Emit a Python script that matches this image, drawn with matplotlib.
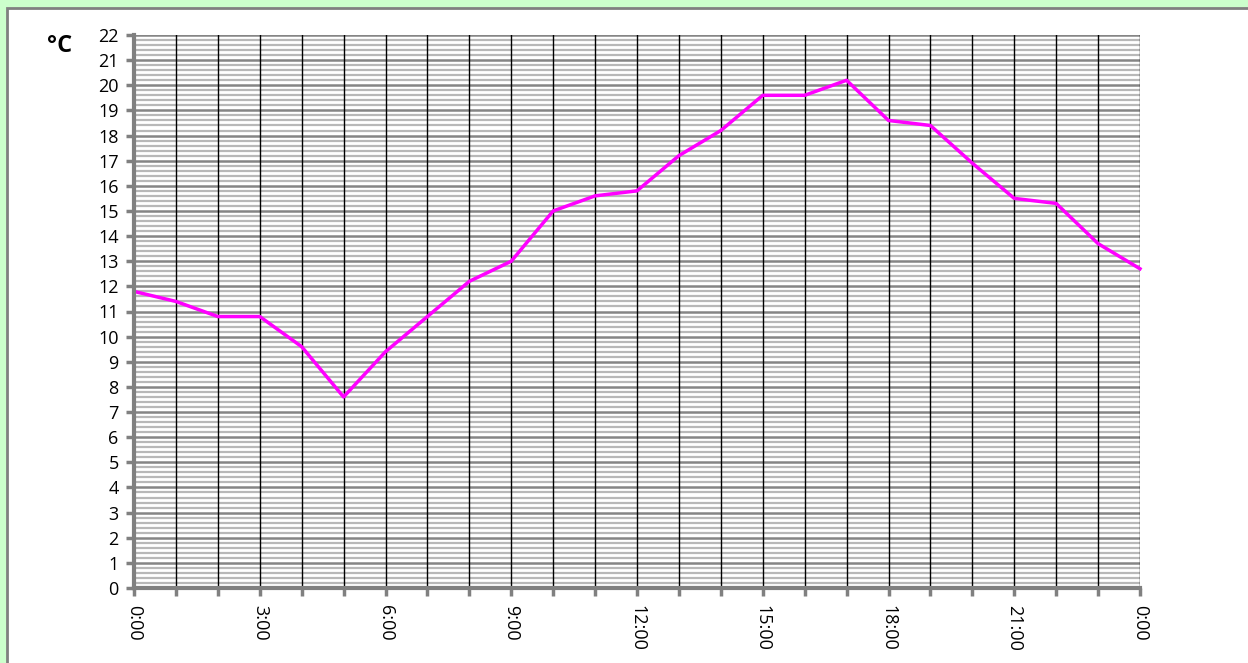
import matplotlib
matplotlib.use("Agg")
import matplotlib.pyplot as plt
import numpy as np
from matplotlib.patches import Rectangle
from matplotlib.ticker import MultipleLocator

hours = list(range(25))
temps = [11.8, 11.4, 10.8, 10.8, 9.6, 7.6, 9.4, 10.8, 12.2, 13.0, 15.0, 15.6, 15.8,
         17.2, 18.2, 19.6, 19.6, 20.2, 18.6, 18.4, 16.9, 15.5, 15.3, 13.7, 12.7]
xtick_pos = [0, 3, 6, 9, 12, 15, 18, 21, 24]
xtick_labels = ["0:00", "3:00", "6:00", "9:00", "12:00", "15:00", "18:00", "21:00", "0:00"]
y_unit = "°C"

plt.rcParams['font.family'] = ['Open Sans', 'DejaVu Sans']

W, H = 1248, 663
fig = plt.figure(figsize=(W/100, H/100), dpi=100)
fig.patch.set_facecolor('#ccffcc')
fig.patches.append(Rectangle((7/W, -0.1), 1.2, 1.1 - 8/H, transform=fig.transFigure,
                             facecolor='white', edgecolor='#808080', linewidth=2, zorder=-5))

ax = fig.add_axes([134/W, 1 - 588/H, (1140-134)/W, (588-35)/H])
ax.set_zorder(2)
ax.set_facecolor('white')
ax.set_xlim(0, 24)
ax.set_ylim(0, 22)

ax.yaxis.set_minor_locator(MultipleLocator(0.2))
ax.grid(which='minor', axis='y', color='#b8b8b8', linewidth=1.6, zorder=1)
ax.grid(which='major', axis='y', color='#858585', linewidth=1.8, zorder=1.5)
for h in hours[1:]:
    ax.axvline(h, color='black', linewidth=1.0, zorder=2)

ax.plot(hours, temps, color='#ff00ff', linewidth=2.5, zorder=3, clip_on=False)

ax.set_xticks(hours)
ax.set_xticklabels([xtick_labels[xtick_pos.index(h)] if h in xtick_pos else "" for h in hours],
                   rotation=-90, fontsize=13)
ax.set_yticks(range(0, 23))
ax.set_yticklabels([str(v) for v in range(0, 23)], fontsize=13)

ax.tick_params(axis='y', which='major', length=6, width=2.5, color='#808080', pad=5)
ax.tick_params(axis='y', which='minor', length=0)
ax.tick_params(axis='x', which='major', length=6, width=2.5, color='#808080', pad=6)

for s in ['top', 'right']:
    ax.spines[s].set_visible(False)
for s in ['left', 'bottom']:
    ax.spines[s].set_color('#808080')
    ax.spines[s].set_linewidth(3)
    ax.spines[s].set_zorder(4)

fig.text(60/W, 1 - 46/H, y_unit, fontsize=17, fontweight='bold', ha='center', va='center')

fig.savefig('out.png', dpi=100, facecolor=fig.get_facecolor())
